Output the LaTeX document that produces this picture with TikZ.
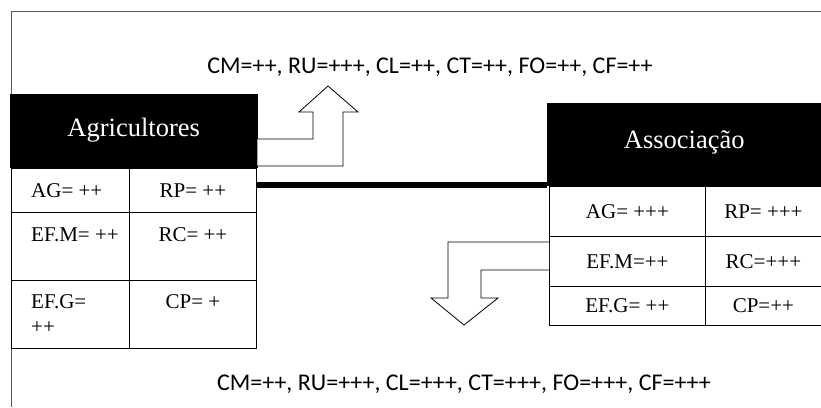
\documentclass[tikz,border=0pt]{standalone}
\usepackage{fontspec}
\setmainfont{Liberation Serif}
\newfontfamily\calfont{Carlito}
\usetikzlibrary{calc}
\begin{document}
\begin{tikzpicture}[x=1pt,y=-1pt,
  hdr/.style={fill=black,draw=black,text=white,inner sep=0pt,
    font=\fontsize{26.5}{30}\selectfont},
  cellbox/.style={draw=black,line width=0.8pt,inner sep=0pt,anchor=north west},
  celltxt/.style={inner sep=0pt,font=\fontsize{21}{30}\selectfont},
  note/.style={inner sep=0pt,font=\calfont\fontsize{24}{28}\selectfont},
  blockarrow/.style={draw=black,line width=0.8pt,fill=white,line join=miter}
]
\useasboundingbox (0,0) rectangle (821,407);
\fill[white] (0,0) rectangle (821,407);
% frame
\draw[black!65,line width=1pt] (11,407) -- (11,11) -- (821,11);

% notes
\node[note,anchor=base] (topnote) at (430,73) {CM=++, RU=+++, CL=++, CT=++, FO=++, CF=++};
\node[note,anchor=base] (botnote) at (464,390) {CM=++, RU=+++, CL=+++, CT=+++, FO=+++, CF=+++};

% Agricultores
\node[hdr,anchor=north west,minimum width=247pt,minimum height=73pt] (agr) at (10,94)
  {\raisebox{7pt}{Agricultores}};
\node[cellbox,minimum width=118pt,minimum height=44pt] (a11) at (11,168) {};
\node[cellbox,minimum width=127pt,minimum height=44pt] (a12) at (129,168) {};
\node[cellbox,minimum width=118pt,minimum height=68pt] (a21) at (11,212) {};
\node[cellbox,minimum width=127pt,minimum height=68pt] (a22) at (129,212) {};
\node[cellbox,minimum width=118pt,minimum height=68pt] (a31) at (11,280) {};
\node[cellbox,minimum width=127pt,minimum height=68pt] (a32) at (129,280) {};

\node[celltxt,anchor=base west] (t11) at ($(a11.north west)+(20,29)$) {AG= ++};
\node[celltxt,anchor=base] (t12) at ($(a12.north)+(0,29)$) {RP= ++};
\node[celltxt,anchor=base west] (t21) at ($(a21.north west)+(20,29)$) {EF.M= ++};
\node[celltxt,anchor=base] (t22) at ($(a22.north)+(0,29)$) {RC= ++};
\node[celltxt,anchor=base west] (t31) at ($(a31.north west)+(20,28)$) {EF.G=};
\node[celltxt,anchor=base west] (t31b) at ($(a31.north west)+(20,53)$) {++};
\node[celltxt,anchor=base] (t32) at ($(a32.north)+(0,28)$) {CP= +};

% Associacao
\node[hdr,anchor=north west,minimum width=274pt,minimum height=82pt] (ass) at (547,103)
  {\raisebox{10pt}{Associação}};
\node[cellbox,minimum width=156pt,minimum height=50pt,celltxt] (b11) at (549,186) {AG= +++};
\node[cellbox,minimum width=116pt,minimum height=50pt,celltxt] (b12) at (705,186) {RP= +++};
\node[cellbox,minimum width=156pt,minimum height=50pt,celltxt] (b21) at (549,236) {EF.M=++};
\node[cellbox,minimum width=116pt,minimum height=50pt,celltxt] (b22) at (705,236) {RC=+++};
\node[cellbox,minimum width=156pt,minimum height=39pt,celltxt] (b31) at (549,286) {EF.G= ++};
\node[cellbox,minimum width=116pt,minimum height=39pt,celltxt] (b32) at (705,286) {CP=++};

% thick link
\draw[line width=6pt] (a12.north east |- 0,185) -- (ass.south west |- 0,185);

% up block arrow from Agricultores
\draw[blockarrow] (agr.east |- 0,139) -- (313,139) -- (313,112) -- (299,112)
  -- (328,86) -- (358,112) -- (343,112) -- (343,166) -- (agr.east |- 0,166);

% down block arrow from Associacao
\draw[blockarrow] (b21.west |- 0,242) -- (448,242) -- (448,298) -- (431,298)
  -- (464,325) -- (498,298) -- (481,298) -- (481,270) -- (b21.west |- 0,270);
\end{tikzpicture}
\end{document}
